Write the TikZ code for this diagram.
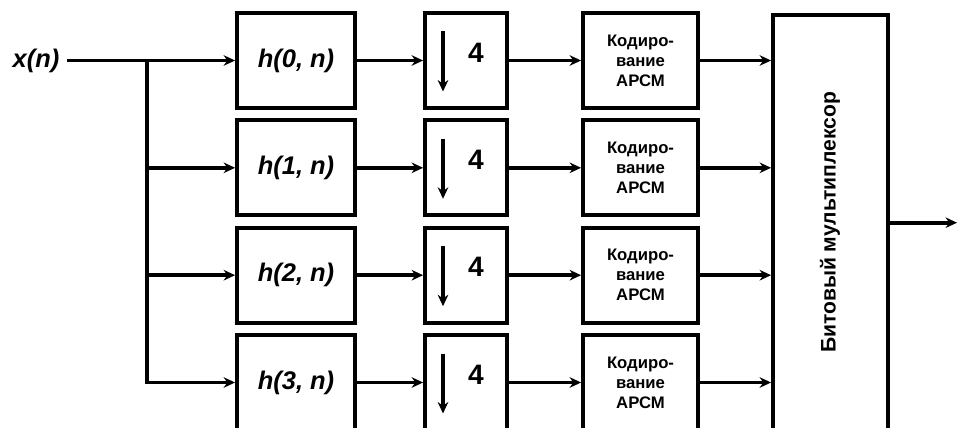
\documentclass[tikz,border=0pt]{standalone}
\usepackage{fontspec}
\setmainfont{Liberation Sans}
\usetikzlibrary{arrows.meta}

\begin{document}
\begin{tikzpicture}[x=0.2mm,y=-0.2mm,line width=2.2pt,
  blk/.style={draw,line width=2.2pt,inner sep=0pt,minimum height=19mm},
  filt/.style={blk,minimum width=23.6mm,font=\fontsize{14.5}{16}\selectfont\bfseries\itshape},
  down/.style={blk,minimum width=16.4mm},
  code/.style={blk,minimum width=23mm,align=center,font=\fontsize{9.5}{11.4}\selectfont\bfseries},
  arr/.style={-{Stealth[length=6.5pt,width=6pt]},line width=2.2pt}
]
\clip (0,0) rectangle (958,428);
\node[font=\fontsize{14.5}{16}\selectfont\bfseries\itshape] (xin) at (36,60.5) {x(n)};
\coordinate (j0) at (147,60.5);
\node[blk,minimum width=23mm,minimum height=90mm,anchor=north] (mux) at (830.5,13) {};
\node[rotate=90,font=\fontsize{12}{14}\selectfont\bfseries] (muxtxt) at (830,222.5) {Битовый мультиплексор};
\coordinate (out) at (957,222.7);
\draw (xin) -- (j0);
\foreach \i/\y in {0/60.5,1/167.8,2/275.2,3/382.5} {
  \node[filt] (h\i) at (296,\y) {h(\i, n)};
  \node[down] (d\i) at (466,\y) {};
  \node[font=\fontsize{16}{18}\selectfont\bfseries] (q\i) at (476,\y-8) {4};
  \draw[arr] (443,\y-29) -- (443,\y+31);
  \node[code] (c\i) at (640.5,\y) {Кодиро-\\вание\\АРСМ};
  \draw[arr] (j0) |- (h\i);
  \draw[arr] (h\i) -- (d\i);
  \draw[arr] (d\i) -- (c\i);
  \draw[arr] (c\i) -- (mux.west |- c\i);
}
\draw[arr] (mux.east |- out) -- (out);
\end{tikzpicture}
\end{document}
